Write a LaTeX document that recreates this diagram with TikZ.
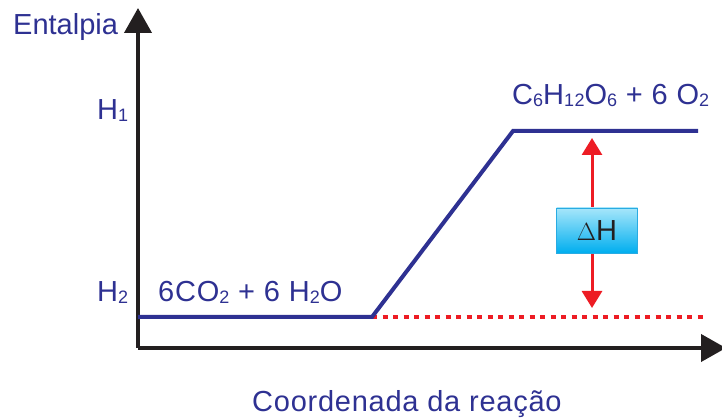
\documentclass[tikz,border=0pt]{standalone}
\usepackage{fontspec}
\setmainfont{Liberation Sans}
\newfontfamily\widefont[LetterSpace=2.6]{Liberation Sans}
\usetikzlibrary{arrows.meta, positioning, calc}

\definecolor{txtblue}{HTML}{2E3192}
\definecolor{axisblack}{HTML}{231F20}
\definecolor{dhred}{HTML}{ED1C24}
\definecolor{boxtop}{HTML}{A6E6FA}
\definecolor{boxbot}{HTML}{00AEEF}
\definecolor{boxline}{HTML}{29ABE2}

\newcommand{\ix}[1]{\raisebox{-1.5pt}{\fontsize{18}{18}\selectfont #1}}

\begin{document}
\begin{tikzpicture}[
  x=1pt, y=1pt,
  axis/.style = {line width=4pt, draw=axisblack, -{Triangle[length=25pt, width=27pt]}},
  level/.style = {line width=4pt, draw=txtblue, line join=miter},
  dotline/.style = {line width=4pt, draw=dhred, dash pattern=on 5pt off 5.5pt},
  dharrow/.style = {line width=3pt, draw=dhred, {Triangle[length=17pt, width=20pt]}-{Triangle[length=17pt, width=20pt]}},
  txt/.style = {text=txtblue, font=\fontsize{29}{29}\selectfont, inner sep=0pt, anchor=base west},
  widetxt/.style = {txt, font=\widefont\fontsize{29}{29}\selectfont},
  dhbox/.style = {draw=boxline, line width=0.8pt, top color=boxtop, bottom color=boxbot,
                  minimum width=81pt, minimum height=45pt, inner sep=0pt,
                  font=\fontsize{29}{29}\selectfont, text=axisblack}
]
  \useasboundingbox (0,0) rectangle (722,419);

  % axes
  \coordinate (origin) at (138,71);
  \coordinate (ytip) at (138,411);
  \coordinate (xtip) at (726,71);
  \draw[axis] (origin) -- (ytip);
  \draw[axis] (origin) -- (xtip);

  % axis labels
  \node[txt] (ylab) at (13,384) {Entalpia};
  \node[widetxt] (xlab) at (252,7) {Coordenada da reação};
  \node[txt] (h1) at (97,299) {H\ix{1}};
  \node[txt] (h2) at (97,117) {H\ix{2}};

  % enthalpy profile
  \coordinate (lowL) at (138,102);
  \coordinate (lowR) at (372,102);
  \coordinate (highL) at (513,288);
  \coordinate (highR) at (698,288);
  \coordinate (dotR) at (707,102);
  \draw[dotline] (lowR) -- (dotR);
  \draw[level] (lowL) -- (lowR) -- (highL) -- (highR);

  % species
  \node[widetxt] (react) at (158,117) {6CO\ix{2} + 6 H\ix{2}O};
  \node[widetxt] (prod) at (512,314) {C\ix{6}H\ix{12}O\ix{6} + 6 O\ix{2}};

  % delta H
  \coordinate (dhtop) at (592,281);
  \coordinate (dhbot) at (592,111);
  \draw[dharrow] (dhbot) -- (dhtop);
  \node[dhbox] (dh) at (597,188.5) {$\Delta$H};

\end{tikzpicture}
\end{document}
